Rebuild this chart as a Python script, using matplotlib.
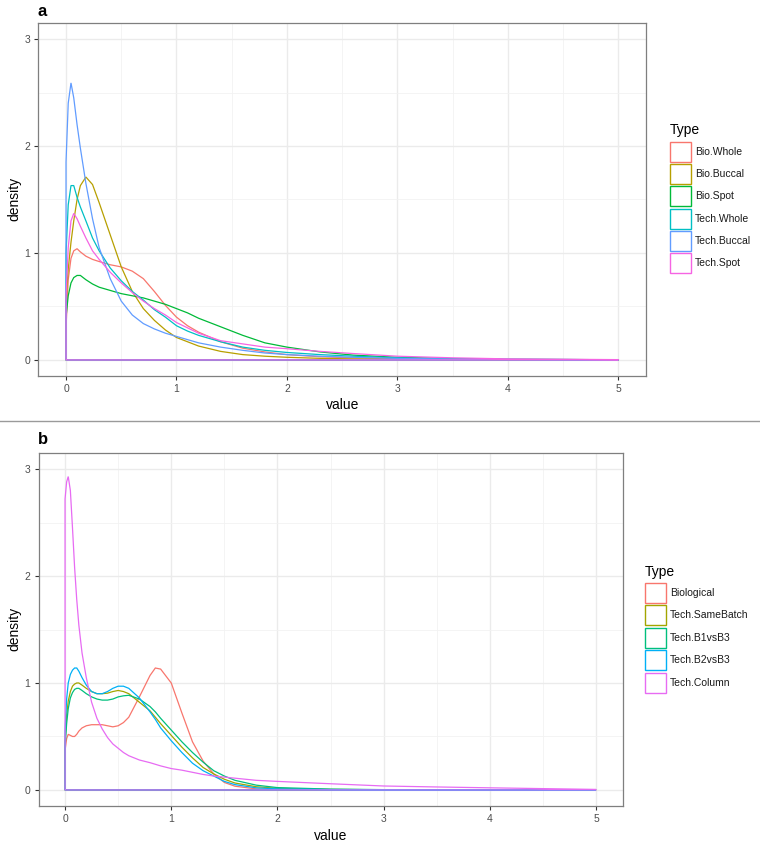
import matplotlib
matplotlib.use("Agg")
import matplotlib.pyplot as plt
from matplotlib.patches import Rectangle
from matplotlib.lines import Line2D

plt.rcParams['font.family'] = ['Liberation Sans', 'DejaVu Sans']

W, H = 760, 844

# ---------- panel a data (density curves) ----------
xa = [0, 0.02, 0.045, 0.07, 0.1, 0.13, 0.18, 0.24, 0.3, 0.4, 0.5, 0.6, 0.7, 0.8,
      0.9, 1.0, 1.1, 1.2, 1.4, 1.6, 1.8, 2.0, 2.3, 2.6, 3.0, 3.5, 4.0, 5.0]
types_a = ["Bio.Whole", "Bio.Buccal", "Bio.Spot", "Tech.Whole", "Tech.Buccal", "Tech.Spot"]
colors_a = ["#F8766D", "#B79F00", "#00BA38", "#00BFC4", "#619CFF", "#F564E3"]

bio_whole = [0.3, 0.75, 0.95, 1.02, 1.04, 1.01, 0.97, 0.94, 0.92, 0.89, 0.87, 0.83, 0.76, 0.64,
             0.51, 0.40, 0.32, 0.26, 0.17, 0.11, 0.075, 0.05, 0.03, 0.02, 0.01, 0.005, 0.003, 0.001]
bio_buccal = [0.55, 0.85, 1.1, 1.3, 1.5, 1.63, 1.71, 1.64, 1.47, 1.17, 0.87, 0.64, 0.48, 0.37,
              0.28, 0.21, 0.17, 0.13, 0.08, 0.05, 0.035, 0.025, 0.015, 0.01, 0.006, 0.003, 0.002, 0.001]
bio_spot = [0.4, 0.6, 0.72, 0.77, 0.79, 0.79, 0.75, 0.71, 0.68, 0.65, 0.62, 0.6, 0.58, 0.55,
            0.52, 0.48, 0.44, 0.39, 0.31, 0.23, 0.16, 0.12, 0.075, 0.045, 0.025, 0.012, 0.006, 0.002]
tech_whole = [1.0, 1.45, 1.63, 1.63, 1.52, 1.43, 1.3, 1.14, 1.02, 0.86, 0.74, 0.64, 0.56, 0.47,
              0.40, 0.32, 0.27, 0.23, 0.17, 0.12, 0.09, 0.07, 0.05, 0.035, 0.02, 0.01, 0.006, 0.002]
tech_buccal = [1.85, 2.4, 2.59, 2.45, 2.2, 1.98, 1.65, 1.32, 1.05, 0.76, 0.55, 0.42, 0.34, 0.29,
               0.25, 0.22, 0.19, 0.16, 0.12, 0.09, 0.065, 0.05, 0.035, 0.025, 0.015, 0.008, 0.005, 0.002]
tech_spot = [0.6, 1.05, 1.3, 1.37, 1.32, 1.25, 1.14, 1.02, 0.94, 0.82, 0.72, 0.63, 0.55, 0.48,
             0.42, 0.35, 0.3, 0.25, 0.18, 0.15, 0.12, 0.105, 0.08, 0.06, 0.035, 0.02, 0.01, 0.003]
series_a = [bio_whole, bio_buccal, bio_spot, tech_whole, tech_buccal, tech_spot]

# ---------- panel b data ----------
xb = [0, 0.015, 0.03, 0.05, 0.07, 0.09, 0.11, 0.13, 0.16, 0.2, 0.25, 0.3, 0.35, 0.4, 0.45, 0.5,
      0.55, 0.6, 0.7, 0.8, 0.85, 0.9, 1.0, 1.1, 1.2, 1.3, 1.4, 1.5, 1.6, 1.8, 2.0, 2.5, 3.0, 3.5,
      4.0, 5.0]
types_b = ["Biological", "Tech.SameBatch", "Tech.B1vsB3", "Tech.B2vsB3", "Tech.Column"]
colors_b = ["#F8766D", "#A3A500", "#00BF7D", "#00B0F6", "#E76BF3"]

biological = [0.37, 0.48, 0.52, 0.51, 0.5, 0.5, 0.52, 0.55, 0.58, 0.6, 0.61, 0.61, 0.61, 0.6, 0.59,
              0.6, 0.63, 0.68, 0.87, 1.07, 1.14, 1.13, 1.0, 0.72, 0.45, 0.27, 0.15, 0.07, 0.035,
              0.01, 0.004, 0.002, 0.001, 0, 0, 0]
same_batch = [0.45, 0.7, 0.83, 0.92, 0.97, 0.99, 1.0, 1.0, 0.98, 0.95, 0.92, 0.9, 0.9, 0.905, 0.92,
              0.93, 0.92, 0.9, 0.82, 0.74, 0.68, 0.62, 0.51, 0.40, 0.3, 0.21, 0.15, 0.1, 0.065,
              0.03, 0.015, 0.005, 0.002, 0.001, 0, 0]
b1vsb3 = [0.4, 0.62, 0.76, 0.86, 0.91, 0.94, 0.95, 0.95, 0.93, 0.9, 0.87, 0.85, 0.84, 0.84, 0.85,
          0.87, 0.88, 0.885, 0.85, 0.78, 0.73, 0.67, 0.56, 0.45, 0.35, 0.26, 0.18, 0.13, 0.09,
          0.045, 0.022, 0.008, 0.003, 0.001, 0, 0]
b2vsb3 = [0.55, 0.85, 1.0, 1.08, 1.12, 1.14, 1.14, 1.11, 1.05, 0.98, 0.92, 0.9, 0.9, 0.92, 0.95,
          0.97, 0.97, 0.95, 0.86, 0.73, 0.66, 0.58, 0.46, 0.35, 0.25, 0.18, 0.13, 0.08, 0.05,
          0.02, 0.01, 0.003, 0.001, 0, 0, 0]
column = [2.72, 2.88, 2.93, 2.8, 2.45, 2.08, 1.78, 1.54, 1.28, 1.05, 0.82, 0.67, 0.57, 0.49, 0.43,
          0.39, 0.35, 0.32, 0.28, 0.255, 0.24, 0.225, 0.2, 0.185, 0.165, 0.145, 0.13, 0.12, 0.11,
          0.09, 0.08, 0.058, 0.037, 0.028, 0.02, 0.005]
series_b = [biological, same_batch, b1vsb3, b2vsb3, column]


def px(x, y):
    return x / W, 1 - y / H


def draw_panel(fig, ax, xs, series, colors, label_y):
    for ys, c in zip(series, colors):
        # closed outline like geom_density: up at the start, back along the baseline
        ax.fill([xs[0]] + xs + [xs[-1]], [0] + ys + [0], facecolor="none",
                edgecolor=c, lw=0.9, zorder=3)
    ax.set_xlim(-0.25, 5.25)
    ax.set_ylim(-0.15, 3.15)
    ax.set_xticks([0, 1, 2, 3, 4, 5])
    ax.set_yticks([0, 1, 2, 3])
    ax.set_xticks([0.5, 1.5, 2.5, 3.5, 4.5], minor=True)
    ax.set_yticks([0.5, 1.5, 2.5], minor=True)
    ax.grid(which="major", color="#EBEBEB", lw=1.0, zorder=0)
    ax.grid(which="minor", color="#F2F2F2", lw=0.6, zorder=0)
    ax.tick_params(which="major", length=3, color="#333333", labelsize=7.5,
                   labelcolor="#4D4D4D", pad=3)
    ax.tick_params(which="minor", length=0)
    for s in ax.spines.values():
        s.set_color("#7F7F7F")
        s.set_linewidth(0.9)
    ax.set_xlabel("value", fontsize=10, labelpad=3)
    ax.set_ylabel("density", fontsize=10, va="center")
    lx, ly = px(14, label_y)
    ax.yaxis.set_label_coords(lx, ly, transform=fig.transFigure)


def draw_legend(fig, labels, colors, x0, title_y, y0, step):
    tx, ty = px(x0, title_y)
    fig.text(tx, ty, "Type", fontsize=10, ha="left", va="center")
    for i, (lab, c) in enumerate(zip(labels, colors)):
        cy = y0 + step * i
        lx, ly = px(x0, cy + 10)
        r = Rectangle((lx, ly), 21 / W, 20 / H, transform=fig.transFigure,
                      facecolor="white", edgecolor=c, lw=1.0)
        fig.add_artist(r)
        tx, ty = px(x0 + 25, cy)
        fig.text(tx, ty, lab, fontsize=7.5, ha="left", va="center", color="#1A1A1A")


fig = plt.figure(figsize=(W / 100, H / 100), dpi=100)

ax_a = fig.add_axes([38.4 / W, 1 - 376 / H, (646 - 38.4) / W, (376 - 23) / H])
draw_panel(fig, ax_a, xa, series_a, colors_a, 199)
ax_b = fig.add_axes([38.5 / W, 1 - 806 / H, (622.6 - 38.5) / W, (806 - 453) / H])
draw_panel(fig, ax_b, xb, series_b, colors_b, 629)

draw_legend(fig, types_a, colors_a, 670, 130, 151.7, 22.3)
draw_legend(fig, types_b, colors_b, 645, 572, 593, 22.4)

fx, fy = px(38, 11)
fig.text(fx, fy, "a", fontsize=12, fontweight="bold", ha="left", va="center")
fx, fy = px(38, 439)
fig.text(fx, fy, "b", fontsize=12, fontweight="bold", ha="left", va="center")

sep = 1 - 421 / H
fig.add_artist(Line2D([0, 1], [sep, sep], transform=fig.transFigure, color="#9A9A9A", lw=1.0))

fig.savefig("out.png", dpi=100)
